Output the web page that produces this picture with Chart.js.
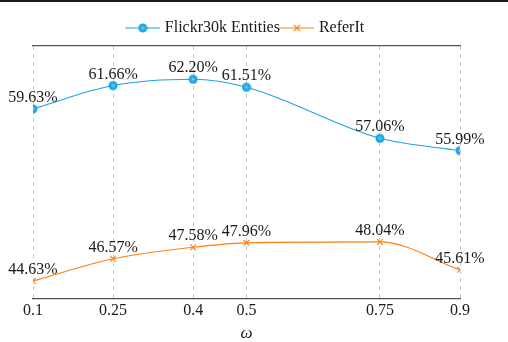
<!DOCTYPE html>
<html>
<head>
<meta charset="utf-8">
<script src="https://cdn.jsdelivr.net/npm/chart.js@4/dist/chart.umd.min.js"></script>
<style>
html,body{margin:0;padding:0;background:#fff;}
#wrap{width:508px;height:342px;position:relative;}
</style>
</head>
<body>
<div id="wrap"><canvas id="c" width="508" height="342"></canvas></div>
<script>
const omegaValues = [0.1, 0.25, 0.4, 0.5, 0.75, 0.9];
const tickLabels = ['0.1', '0.25', '0.4', '0.5', '0.75', '0.9'];
const flickrValues = [59.63, 61.66, 62.20, 61.51, 57.06, 55.99];
const referItValues = [44.63, 46.57, 47.58, 47.96, 48.04, 45.61];
const seriesNames = ['Flickr30k Entities', 'ReferIt'];

const CYAN = 'rgb(27,163,227)';
const ORANGE = 'rgb(255,127,14)';
const FONT = "'Liberation Serif', 'Times New Roman', serif";

function flickrMarker(){
  const c = document.createElement('canvas');
  c.width = 10; c.height = 10;
  const g = c.getContext('2d');
  g.fillStyle = CYAN;
  g.beginPath(); g.arc(5,5,4.5,0,Math.PI*2); g.fill();
  g.strokeStyle = 'rgba(255,255,255,0.4)';
  g.lineWidth = 0.6;
  for (let k=0;k<4;k++){
    const a = k*Math.PI/4;
    g.beginPath();
    g.moveTo(5-Math.cos(a)*2.6,5-Math.sin(a)*2.6);
    g.lineTo(5+Math.cos(a)*2.6,5+Math.sin(a)*2.6);
    g.stroke();
  }
  return c;
}
function legendIcon(color, markerFn){
  const c = document.createElement('canvas');
  c.width = 35; c.height = 12;
  const g = c.getContext('2d');
  g.strokeStyle = color; g.lineWidth = 1.2;
  g.beginPath(); g.moveTo(0,6); g.lineTo(35,6); g.stroke();
  markerFn(g);
  return c;
}
const fm = flickrMarker();
const legendIcons = [
  legendIcon(CYAN, g => g.drawImage(fm, 12.5, 1)),
  legendIcon(ORANGE, g => {
    g.strokeStyle = ORANGE; g.lineWidth = 1.1;
    g.beginPath(); g.moveTo(14.5,3); g.lineTo(20.5,9); g.moveTo(20.5,3); g.lineTo(14.5,9); g.stroke();
  })
];

function toPoints(vals){ return omegaValues.map((x,i)=>({x:x, y:vals[i]})); }

const topLine = {
  id:'topLine',
  afterDraw(chart){
    const ctx = chart.ctx;
    ctx.save();
    ctx.fillStyle = '#1a1a1a';
    ctx.fillRect(0,0,chart.width,2);
    ctx.restore();
  }
};
const valueLabels = {
  id:'valueLabels',
  afterDatasetsDraw(chart){
    const ctx = chart.ctx;
    ctx.save();
    ctx.font = '16px ' + FONT;
    ctx.fillStyle = '#1a1a1a';
    ctx.textAlign = 'center';
    ctx.textBaseline = 'alphabetic';
    chart.data.datasets.forEach((ds, di) => {
      const meta = chart.getDatasetMeta(di);
      meta.data.forEach((pt, i) => {
        ctx.fillText(ds.data[i].y.toFixed(2) + '%', pt.x, pt.y - 7);
      });
    });
    ctx.restore();
  }
};

new Chart(document.getElementById('c'), {
  type:'line',
  data:{
    datasets:[
      {label:seriesNames[0], data:toPoints(flickrValues), borderColor:CYAN, backgroundColor:CYAN,
       borderWidth:1.1, cubicInterpolationMode:'monotone', pointStyle:fm, pointRadius:4.5, pointHoverRadius:4.5},
      {label:seriesNames[1], data:toPoints(referItValues), borderColor:ORANGE, backgroundColor:ORANGE,
       borderWidth:1.1, cubicInterpolationMode:'monotone', pointStyle:'crossRot', pointRadius:4, pointBorderWidth:1.1, pointHoverRadius:4}
    ]
  },
  options:{
    responsive:false,
    animation:false,
    events:[],
    layout:{padding:{left:33, right:48, top:17, bottom:0}},
    plugins:{
      legend:{
        display:true, position:'top', align:'center',
        labels:{
          font:{family:FONT, size:16}, color:'#1a1a1a', padding:3,
          usePointStyle:true, pointStyleWidth:28,
          generateLabels(chart){
            return chart.data.datasets.map((ds,i)=>({
              text:ds.label, pointStyle:legendIcons[i], fillStyle:ds.borderColor,
              strokeStyle:ds.borderColor, lineWidth:0, hidden:false, datasetIndex:i, fontColor:'#1a1a1a'
            }));
          }
        }
      },
      tooltip:{enabled:false}
    },
    scales:{
      x:{
        type:'linear', position:'bottom', min:0.1, max:0.9,
        afterBuildTicks(axis){ axis.ticks = omegaValues.map(v=>({value:v})); },
        ticks:{
          font:{family:FONT, size:16, lineHeight:1}, color:'#1a1a1a', padding:4, maxRotation:0, autoSkip:false,
          callback(v){ const i = omegaValues.indexOf(v); return i>=0 ? tickLabels[i] : ''; }
        },
        grid:{color:'#c8c8c8', lineWidth:1, drawTicks:false, tickLength:0},
        border:{display:true, color:'#555', width:1.2, dash:[4,4]},
        title:{display:true, text:'ω', font:{family:FONT, size:17, style:'italic', lineHeight:1}, color:'#1a1a1a', padding:{top:2,bottom:0}}
      },
      x2:{
        type:'linear', position:'top', min:0.1, max:0.9,
        ticks:{display:false},
        grid:{display:false, drawTicks:false},
        border:{display:true, color:'#555', width:1.2}
      },
      y:{
        type:'linear', display:false, min:43.07, max:65.1
      }
    }
  },
  plugins:[topLine, valueLabels]
});
</script>
</body>
</html>
